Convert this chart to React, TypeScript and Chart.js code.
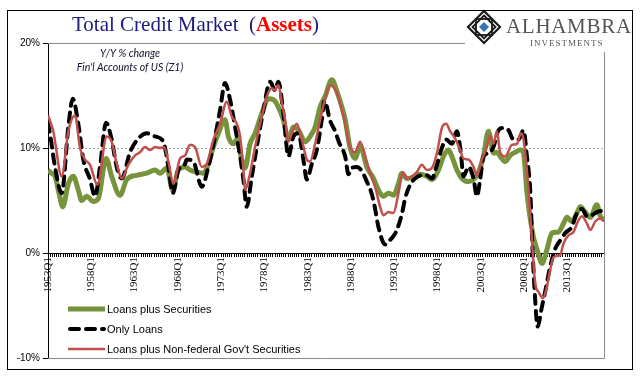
import React, { useEffect, useRef } from 'react';
import { Chart, registerables } from 'chart.js';

Chart.register(...registerables);

// ---------- text ----------
const TITLE_MAIN = 'Total Credit Market';
const TITLE_ACCENT = 'Assets';
const SUBTITLE_LINES = ['Y/Y % change', "Fin'l Accounts of US (Z1)"];
const SERIES_NAMES = ['Loans plus Securities', 'Only Loans', "Loans plus Non-federal Gov't Securities"];
const LOGO_NAME = 'ALHAMBRA';
const LOGO_SUB = 'INVESTMENTS';

// ---------- axes ----------
const FIRST_QUARTER = 1953;      // 1953Q1
const LAST_QUARTER = 2017.25;    // 2017Q2
const LABEL_EVERY_YEARS = 5;
const Y_MIN = -10;
const Y_MAX = 20;
const Y_STEP = 10;

// ---------- data: [year (decimal), Y/Y % change] ----------
const loansPlusSecurities: [number, number][] = [
  [1953.0, 7.9], [1953.4, 7.6], [1953.81, 7.3], [1954.3, 5.6], [1954.7, 4.4], [1955.35, 6.6],
  [1955.92, 7.3], [1956.5, 6.0], [1956.9, 5.0], [1957.47, 5.4], [1958.24, 4.9], [1958.82, 5.2],
  [1959.71, 9.0], [1960.36, 7.3], [1961.32, 5.5], [1962.1, 7.0], [1963.25, 7.4], [1964.41, 7.6],
  [1965.37, 7.9], [1965.95, 7.6], [1966.72, 8.1], [1967.42, 6.0], [1968.06, 7.9], [1968.84, 8.2],
  [1969.42, 7.9], [1970.19, 7.7], [1970.95, 7.6], [1971.53, 8.5], [1972.11, 10.1], [1972.69, 11.4],
  [1973.46, 12.7], [1973.84, 11.1], [1974.42, 10.4], [1974.82, 10.8], [1975.39, 8.9], [1975.77, 8.1],
  [1976.35, 10.4], [1976.93, 11.4], [1977.71, 13.3], [1978.47, 14.7], [1979.05, 14.6], [1979.62, 13.9],
  [1980.2, 12.7], [1980.78, 10.8], [1981.36, 12.0], [1981.94, 11.7], [1982.71, 10.6], [1983.29, 11.1],
  [1983.87, 12.0], [1984.45, 13.9], [1985.02, 14.9], [1985.8, 16.5], [1986.38, 15.4], [1987.34, 12.7],
  [1987.91, 10.0], [1988.49, 9.0], [1989.07, 10.2], [1989.84, 8.2], [1990.61, 7.1], [1991.18, 6.0],
  [1991.76, 5.4], [1992.34, 5.7], [1992.92, 5.5], [1993.5, 6.6], [1993.89, 7.6], [1994.47, 7.1],
  [1995.23, 7.2], [1996.01, 7.5], [1996.78, 7.3], [1997.36, 7.0], [1998.12, 7.9], [1998.7, 9.2],
  [1999.28, 9.8], [1999.67, 9.2], [2000.25, 7.9], [2000.83, 7.1], [2001.59, 6.8], [2002.17, 7.0],
  [2002.75, 7.7], [2003.32, 9.2], [2003.9, 11.6], [2004.48, 9.5], [2004.87, 9.6], [2005.25, 9.2],
  [2005.83, 8.7], [2006.41, 9.3], [2006.99, 9.6], [2007.57, 9.8], [2007.95, 9.5], [2008.34, 5.8],
  [2009.1, 1.5], [2009.57, 0.2], [2010.08, -1.0], [2010.65, 0.3], [2011.23, 1.9], [2012.0, 2.0],
  [2012.57, 2.8], [2012.97, 3.4], [2013.54, 3.0], [2014.12, 3.8], [2014.5, 4.4], [2015.08, 3.9],
  [2015.66, 3.4], [2016.43, 4.6], [2016.82, 3.5], [2017.25, 3.2],
];

const onlyLoans: [number, number][] = [
  [1953.0, 12.4], [1953.3, 11.0], [1953.81, 8.2], [1954.58, 5.7], [1955.35, 12.0], [1955.86, 14.7],
  [1956.5, 12.3], [1957.08, 8.9], [1957.86, 7.0], [1958.43, 5.4], [1959.01, 8.2], [1959.71, 12.4],
  [1960.36, 10.8], [1960.94, 8.2], [1961.52, 7.1], [1962.48, 9.6], [1963.44, 10.9], [1964.41, 11.4],
  [1965.37, 11.1], [1966.33, 10.6], [1966.91, 8.2], [1967.42, 5.7], [1968.06, 7.9], [1968.84, 8.5],
  [1969.03, 8.9], [1969.8, 8.7], [1970.77, 6.3], [1971.53, 8.2], [1972.31, 11.1], [1972.88, 13.6],
  [1973.46, 16.2], [1974.04, 14.6], [1974.62, 12.0], [1975.2, 9.2], [1975.58, 7.0], [1975.97, 4.4],
  [1976.55, 7.3], [1977.13, 10.1], [1977.89, 13.6], [1978.66, 16.3], [1979.24, 15.5], [1979.62, 16.3],
  [1980.2, 13.3], [1980.78, 9.2], [1981.36, 11.1], [1981.94, 11.4], [1982.51, 8.9], [1982.91, 7.0],
  [1983.49, 8.5], [1984.06, 9.8], [1984.64, 12.7], [1984.95, 14.5], [1985.6, 12.6], [1986.18, 11.6],
  [1986.6, 10.6], [1987.34, 9.2], [1987.72, 7.5], [1988.11, 8.1], [1988.69, 8.2], [1989.27, 7.8],
  [1989.84, 6.8], [1990.42, 5.6], [1990.8, 4.2], [1991.18, 2.5], [1991.96, 0.8], [1992.34, 1.1],
  [1992.92, 1.6], [1993.31, 2.2], [1993.89, 3.7], [1994.27, 5.2], [1994.85, 6.5], [1995.43, 7.1],
  [1996.2, 7.4], [1996.78, 7.4], [1997.36, 7.1], [1997.94, 8.4], [1998.51, 10.0], [1999.01, 10.8],
  [1999.67, 10.4], [2000.25, 11.6], [2000.71, 9.5], [2001.01, 7.3], [2001.59, 8.2], [2002.17, 7.1],
  [2002.56, 5.4], [2002.94, 7.0], [2003.32, 9.2], [2003.9, 9.5], [2004.48, 10.1], [2005.06, 11.7],
  [2005.64, 11.9], [2006.21, 11.7], [2006.79, 10.8], [2007.37, 10.8], [2007.95, 11.7], [2008.34, 9.2],
  [2008.72, 6.0], [2009.03, -0.4], [2009.3, -4.5], [2009.57, -7.0], [2010.08, -5.1], [2010.57, -3.2],
  [2011.03, -1.3], [2011.61, 0.4], [2012.19, 1.2], [2012.77, 1.9], [2013.54, 2.5], [2014.12, 3.8],
  [2014.7, 4.2], [2015.28, 3.5], [2015.85, 3.6], [2016.43, 3.9], [2017.01, 4.0], [2017.25, 4.0],
];

const loansPlusNonFederal: [number, number][] = [
  [1953.0, 13.1], [1953.61, 11.6], [1954.58, 7.3], [1955.35, 11.6], [1956.12, 13.1], [1956.7, 10.0],
  [1957.28, 8.9], [1957.86, 8.4], [1958.7, 6.5], [1959.79, 11.1], [1960.36, 10.6], [1960.94, 8.5],
  [1961.52, 7.1], [1962.28, 8.4], [1963.06, 9.3], [1963.64, 9.6], [1964.21, 10.1], [1964.79, 9.8],
  [1965.37, 10.1], [1965.95, 10.0], [1966.41, 10.1], [1966.91, 8.7], [1967.49, 6.6], [1968.26, 9.0],
  [1968.84, 9.3], [1969.42, 10.3], [1969.99, 10.1], [1970.77, 8.2], [1971.35, 8.5], [1972.11, 10.8],
  [1972.88, 12.3], [1973.66, 14.4], [1974.24, 13.0], [1974.82, 12.3], [1975.2, 11.1], [1975.58, 7.9],
  [1975.77, 6.0], [1976.35, 7.6], [1976.93, 10.1], [1977.71, 13.0], [1978.28, 14.9], [1978.86, 15.7],
  [1979.24, 15.5], [1979.62, 16.0], [1980.02, 14.3], [1980.4, 12.7], [1980.78, 10.6], [1981.17, 11.4],
  [1981.75, 12.3], [1982.33, 10.8], [1982.91, 8.9], [1983.29, 8.7], [1983.87, 10.4], [1984.45, 12.7],
  [1985.02, 14.7], [1985.6, 16.0], [1986.38, 15.2], [1987.14, 13.0], [1987.91, 10.1], [1988.49, 9.6],
  [1989.07, 10.6], [1989.65, 9.2], [1990.23, 7.6], [1990.8, 6.3], [1991.38, 4.4], [1991.76, 3.6],
  [1992.34, 3.9], [1992.92, 3.8], [1993.5, 5.7], [1994.01, 7.7], [1994.47, 7.1], [1995.05, 7.3],
  [1995.62, 7.7], [1996.2, 8.4], [1996.78, 7.9], [1997.36, 8.1], [1997.94, 9.5], [1998.51, 11.9],
  [1999.01, 12.3], [1999.47, 11.6], [2000.05, 10.9], [2000.63, 9.8], [2001.01, 9.0], [2001.59, 8.9],
  [2002.17, 8.2], [2002.56, 7.4], [2003.14, 8.9], [2003.72, 10.1], [2004.1, 11.2], [2004.48, 10.4],
  [2004.87, 11.6], [2005.25, 9.6], [2005.83, 9.2], [2006.61, 10.3], [2007.18, 10.4], [2007.65, 11.4],
  [2007.95, 10.8], [2008.34, 7.9], [2008.53, 6.0], [2008.92, 1.2], [2009.3, -2.9], [2009.68, -3.7],
  [2010.19, -4.3], [2010.65, -3.2], [2011.03, -1.6], [2011.42, -0.4], [2012.19, -0.2], [2012.57, 0.9],
  [2013.15, 1.7], [2013.73, 2.0], [2014.12, 2.8], [2014.7, 3.5], [2015.28, 2.8], [2015.66, 2.2],
  [2016.24, 3.0], [2016.82, 3.3], [2017.25, 3.0],
];

// ---------- styles ----------
const GREEN = '#77933C';
const RED = '#C0504D';
const BLACK = '#000000';
const NAVY = '#1B1B7E';

const toPoints = (arr: [number, number][]) => arr.map(([x, y]) => ({ x, y }));

const decorPlugin = {
  id: 'decor',
  beforeDatasetsDraw(chart: any) {
    const { ctx, chartArea: a, scales } = chart;
    const y = scales.y;
    ctx.save();
    const top = Math.round(y.getPixelForValue(Y_MAX)) + 0.5;
    const bot = Math.round(y.getPixelForValue(Y_MIN)) + 0.5;
    const right = Math.round(a.right) + 0.5;
    ctx.strokeStyle = '#8a8a8a';
    ctx.lineWidth = 1;
    ctx.beginPath();
    ctx.moveTo(a.left, top);
    ctx.lineTo(right, top);
    ctx.lineTo(right, bot);
    ctx.lineTo(a.left, bot);
    ctx.stroke();
    const g = Math.round(y.getPixelForValue(10)) + 0.5;
    ctx.setLineDash([2, 2]);
    ctx.strokeStyle = '#a8a8a8';
    ctx.beginPath();
    ctx.moveTo(a.left + 1, g);
    ctx.lineTo(right, g);
    ctx.stroke();
    ctx.restore();
  },
  afterDraw(chart: any) {
    const { ctx } = chart;
    ctx.save();

    // Title
    ctx.textBaseline = 'alphabetic';
    ctx.textAlign = 'left';
    let x = 72;
    const ty = 31;
    ctx.font = "21px 'Liberation Serif'";
    ctx.fillStyle = NAVY;
    ctx.fillText(TITLE_MAIN, x, ty);
    x += ctx.measureText(TITLE_MAIN + '  ').width;
    ctx.fillText('(', x, ty);
    x += ctx.measureText('(').width;
    ctx.font = "bold 21px 'Liberation Serif'";
    ctx.fillStyle = '#FF0000';
    ctx.fillText(TITLE_ACCENT, x, ty);
    x += ctx.measureText(TITLE_ACCENT).width;
    ctx.font = "21px 'Liberation Serif'";
    ctx.fillStyle = NAVY;
    ctx.fillText(')', x, ty);

    // Subtitle
    ctx.font = "italic 10.5px Lato";
    ctx.fillStyle = '#10102e';
    ctx.textAlign = 'center';
    ctx.textBaseline = 'middle';
    ctx.fillText(SUBTITLE_LINES[0], 130, 54);
    ctx.fillText(SUBTITLE_LINES[1], 130, 68);

    // Legend
    const rows = [309, 329, 349];
    const lx0 = 68, lx1 = 105;
    ctx.textAlign = 'left';
    ctx.textBaseline = 'middle';
    ctx.strokeStyle = GREEN; ctx.lineWidth = 5; ctx.lineCap = 'butt';
    ctx.beginPath(); ctx.moveTo(lx0, rows[0]); ctx.lineTo(lx1, rows[0]); ctx.stroke();
    ctx.strokeStyle = BLACK; ctx.lineWidth = 4; ctx.lineCap = 'round'; ctx.setLineDash([9, 7]);
    ctx.beginPath(); ctx.moveTo(lx0 + 2, rows[1]); ctx.lineTo(lx1 - 1, rows[1]); ctx.stroke();
    ctx.setLineDash([]);
    ctx.strokeStyle = RED; ctx.lineWidth = 2.5; ctx.lineCap = 'butt';
    ctx.beginPath(); ctx.moveTo(lx0, rows[2]); ctx.lineTo(lx1, rows[2]); ctx.stroke();
    ctx.font = "11px 'Liberation Sans'";
    ctx.fillStyle = '#000';
    SERIES_NAMES.forEach((n, i) => ctx.fillText(n, 107, rows[i] + 0.5));

    // Logo
    ctx.fillStyle = '#ffffff';
    ctx.fillRect(465, 11, 167, 41);
    const cx = 484, cy = 27, R = 16;
    ctx.strokeStyle = '#1a1a1a';
    ctx.lineWidth = 2.2;
    ctx.beginPath();
    ctx.moveTo(cx, cy - R); ctx.lineTo(cx + R, cy); ctx.lineTo(cx, cy + R); ctx.lineTo(cx - R, cy); ctx.closePath();
    ctx.stroke();
    ctx.lineWidth = 1.8;
    ctx.strokeRect(cx - 8, cy - 8, 16, 16);
    ctx.beginPath();
    ctx.moveTo(cx, cy - 11.5); ctx.lineTo(cx + 11.5, cy); ctx.lineTo(cx, cy + 11.5); ctx.lineTo(cx - 11.5, cy); ctx.closePath();
    ctx.stroke();
    ctx.fillStyle = '#3a72b8';
    ctx.beginPath();
    ctx.moveTo(cx, cy - 5); ctx.lineTo(cx + 5, cy); ctx.lineTo(cx, cy + 5); ctx.lineTo(cx - 5, cy); ctx.closePath();
    ctx.fill();

    ctx.fillStyle = '#555555';
    ctx.textAlign = 'left';
    ctx.textBaseline = 'alphabetic';
    ctx.font = "21px 'Liberation Serif'";
    (ctx as any).letterSpacing = '0.7px';
    ctx.fillText(LOGO_NAME, 506, 33);
    ctx.font = "9px 'Liberation Serif'";
    (ctx as any).letterSpacing = '1px';
    ctx.fillText(LOGO_SUB, 530, 46);
    (ctx as any).letterSpacing = '0px';

    // Outer frame
    ctx.strokeStyle = '#000';
    ctx.lineWidth = 1;
    ctx.strokeRect(7.5, 10.5, 625, 359);
    ctx.restore();
  },
};

export default function App() {
  const ref = useRef<HTMLCanvasElement | null>(null);

  useEffect(() => {
    if (!ref.current) return;
    const chart = new Chart(ref.current, {
      type: 'line',
      data: {
        datasets: [
          {
            label: SERIES_NAMES[2],
            data: toPoints(loansPlusNonFederal),
            borderColor: RED,
            borderWidth: 2.5,
            pointRadius: 0,
            cubicInterpolationMode: 'monotone',
            fill: false,
          },
          {
            label: SERIES_NAMES[1],
            data: toPoints(onlyLoans),
            borderColor: BLACK,
            borderWidth: 4,
            borderDash: [9, 7],
            borderCapStyle: 'round',
            pointRadius: 0,
            cubicInterpolationMode: 'monotone',
            fill: false,
          },
          {
            label: SERIES_NAMES[0],
            data: toPoints(loansPlusSecurities),
            borderColor: GREEN,
            borderWidth: 5,
            borderJoinStyle: 'round',
            pointRadius: 0,
            cubicInterpolationMode: 'monotone',
            fill: false,
          },
        ],
      },
      options: {
        responsive: false,
        animation: false,
        devicePixelRatio: 1,
        layout: { padding: { left: 0, right: 37, top: 43, bottom: 23 } },
        plugins: { legend: { display: false }, tooltip: { enabled: false }, title: { display: false } },
        scales: {
          x: {
            type: 'linear',
            position: { y: 0 } as any,
            min: FIRST_QUARTER,
            max: LAST_QUARTER,
            afterBuildTicks: (scale: any) => {
              const ticks = [];
              const n = Math.round((LAST_QUARTER - FIRST_QUARTER) * 4);
              for (let q = 0; q <= n; q++) ticks.push({ value: FIRST_QUARTER + q / 4 });
              scale.ticks = ticks;
            },
            ticks: {
              autoSkip: false,
              minRotation: 90,
              maxRotation: 90,
              padding: 1,
              color: '#000',
              font: { family: "'Liberation Serif'", size: 11 },
              callback: (value: any) => {
                const q = Math.round((Number(value) - FIRST_QUARTER) * 4);
                if (q % (LABEL_EVERY_YEARS * 4) === 0) return `${FIRST_QUARTER + q / 4}Q1`;
                return '';
              },
            },
            grid: { display: true, drawOnChartArea: false, drawTicks: true, tickLength: 3, color: '#000', lineWidth: 1 },
            border: { display: true, color: '#000', width: 1 },
          },
          y: {
            type: 'linear',
            min: Y_MIN,
            max: Y_MAX,
            afterFit: (scale: any) => { scale.width = 48; },
            ticks: {
              stepSize: Y_STEP,
              padding: 3,
              color: '#000',
              font: { family: "'Liberation Sans'", size: 10 },
              callback: (v: any) => `${v}%`,
            },
            grid: { display: true, drawOnChartArea: false, drawTicks: true, tickLength: 5, color: '#000' },
            border: { display: true, color: '#000', width: 1 },
          },
        },
      },
      plugins: [decorPlugin],
    } as any);
    return () => chart.destroy();
  }, []);

  return (
    <div style={{ position: 'fixed', left: 0, top: 0, width: 641, height: 381, background: '#fff' }}>
      <canvas ref={ref} width={641} height={381} style={{ width: 641, height: 381, display: 'block' }} />
    </div>
  );
}
